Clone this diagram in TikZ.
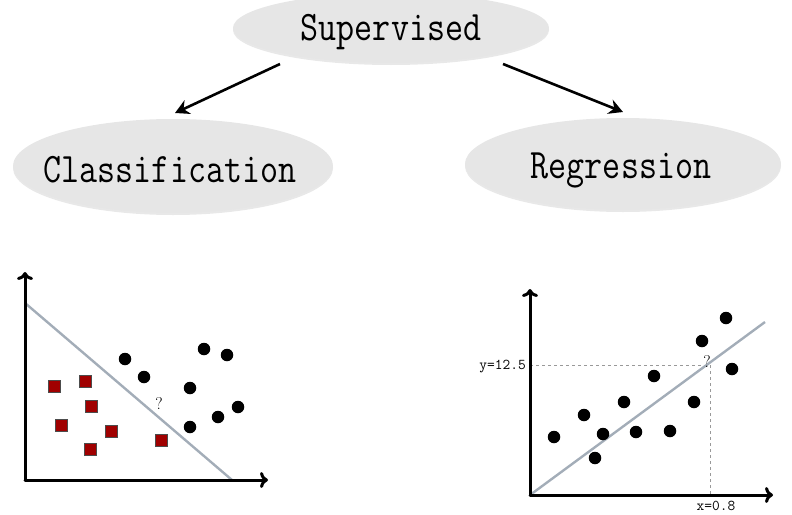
\documentclass[tikz,border=0pt]{standalone}
\usetikzlibrary{arrows.meta,shadows,shapes.geometric}
\definecolor{ellfill}{HTML}{E6E6E6}
\definecolor{sqred}{HTML}{A00000}
\definecolor{fitline}{HTML}{A3ADB8}
\begin{document}
\begin{tikzpicture}[x=1pt,y=-1pt,
  bubble/.style={ellipse,fill=ellfill,drop shadow={opacity=0.18,shadow xshift=0pt,shadow yshift=-2pt},inner sep=0pt},
  bigtext/.style={font=\ttfamily\fontsize{35}{35}\selectfont},
  tree/.style={line width=2.6pt,-{Stealth[length=14pt,width=15pt]}},
  axis/.style={line width=3pt,line cap=round,-{To[length=8pt,width=16pt,line width=3pt]}},
  dot/.style={circle,fill=black,minimum size=12.5pt,inner sep=0pt},
  sq/.style={rectangle,fill=sqred,draw=black!70,line width=0.6pt,minimum size=12pt,inner sep=0pt},
  fit/.style={draw=fitline,line width=2.4pt},
  guide/.style={draw=gray!80,dashed,line width=0.6pt},
  small/.style={font=\ttfamily\fontsize{15}{15}\selectfont,inner sep=0pt},
  qm/.style={font=\fontsize{17}{17}\selectfont,inner sep=0pt}]
\useasboundingbox (0,0) rectangle (792,514);

% ellipses
\node[bubble,minimum width=316pt,minimum height=70pt] (sup) at (391,28) {};
\node[bigtext] at (391,32) {\scalebox{1}[1.2]{Supervised}};
\node[bubble,minimum width=320pt,minimum height=94pt] (cls) at (173,166) {};
\node[bigtext] at (170,170) {\scalebox{1}[1.2]{Classification}};
\node[bubble,minimum width=316pt,minimum height=92pt] (reg) at (623,164) {};
\node[bigtext] at (621,170) {\scalebox{1}[1.2]{Regression}};

\coordinate (s1) at (280,64);
\coordinate (e1) at (175,113);
\coordinate (s2) at (503,64);
\coordinate (e2) at (623,112);
\draw[tree] (s1) -- (e1);
\draw[tree] (s2) -- (e2);

% left plot
\coordinate (lo) at (25,480);
\coordinate (ly) at (25,272);
\coordinate (lx) at (268,480);
\coordinate (la) at (25,303);
\coordinate (lb) at (232,480);
\draw[fit] (la) -- (lb);
\draw[axis] (lo) -- (ly);
\draw[axis] (lo) -- (lx);
\foreach \p/\n in {{(125,359)}/a1,{(144,377)}/a2,{(204,349)}/a3,{(227,355)}/a4,{(190,388)}/a5,{(238,407)}/a6,{(218,417)}/a7,{(190,427)}/a8}
  \node[dot] (\n) at \p {};
\foreach \p/\n in {{(54,386)}/b1,{(85,381)}/b2,{(91,406)}/b3,{(61,425)}/b4,{(111,431)}/b5,{(90,449)}/b6,{(161,440)}/b7}
  \node[sq] (\n) at \p {};
\node[qm] (lq) at (159,404) {?};

% right plot
\coordinate (ro) at (530,495);
\coordinate (ry) at (530,289);
\coordinate (rx) at (773,495);
\coordinate (rt) at (765,322);
\coordinate (hy) at (530,365);
\coordinate (hp) at (710,365);
\coordinate (hx) at (710,495);
\draw[guide] (hy) -- (hp) -- (hx);
\draw[fit] (ro) -- (rt);
\draw[axis] (ro) -- (ry);
\draw[axis] (ro) -- (rx);
\foreach \p/\n in {{(554,437)}/d1,{(584,415)}/d2,{(603,434)}/d3,{(595,458)}/d4,{(624,402)}/d5,{(636,432)}/d6,{(654,376)}/d7,{(670,431)}/d8,{(694,402)}/d9,{(702,341)}/d10,{(726,318)}/d11,{(732,369)}/d12}
  \node[dot] (\n) at \p {};
\node[qm] (rq) at (707,362) {?};
\node[small,anchor=east] (ylab) at (526,367) {y=12.5};
\node[small] (xlab) at (716,506) {x=0.8};
\end{tikzpicture}
\end{document}
